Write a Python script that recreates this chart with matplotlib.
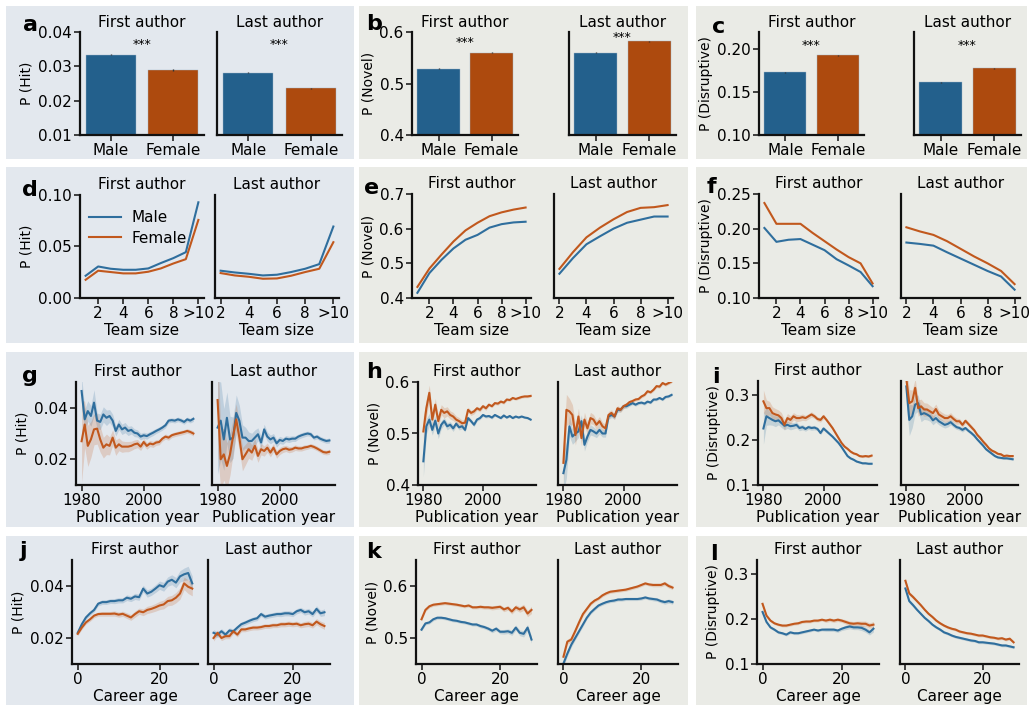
import numpy as np
import matplotlib
matplotlib.use('Agg')
import matplotlib.pyplot as plt
from matplotlib.patches import Rectangle

plt.rcParams['font.family'] = ['DejaVu Sans']

# ---------------- data ----------------
genders = ['Male', 'Female']
roles = ['First author', 'Last author']

hit_bar_first = [0.0334, 0.0289]
hit_bar_last = [0.0282, 0.0236]
hit_bar_err = [0.0002, 0.0002]
nov_bar_first = [0.529, 0.560]
nov_bar_last = [0.560, 0.582]
nov_bar_err = [0.001, 0.001]
dis_bar_first = [0.173, 0.193]
dis_bar_last = [0.1616, 0.178]
dis_bar_err = [0.0006, 0.0006]

team_first = [1, 2, 3, 4, 5, 6, 7, 8, 9, 10]
team_last = [2, 3, 4, 5, 6, 7, 8, 9, 10]
team_ticks = [2, 4, 6, 8, 10]
team_ticklabels = ['2', '4', '6', '8', '>10']

d_first_male = [0.0216, 0.0306, 0.0284, 0.0274, 0.0274, 0.0287, 0.0339, 0.0387, 0.0445, 0.0929]
d_first_female = [0.0177, 0.0265, 0.0252, 0.0239, 0.0239, 0.0255, 0.0287, 0.0335, 0.0377, 0.0758]
d_last_male = [0.0265, 0.0248, 0.0235, 0.0219, 0.0226, 0.0252, 0.0284, 0.0329, 0.0694]
d_last_female = [0.0242, 0.0219, 0.0206, 0.0187, 0.0190, 0.0216, 0.0252, 0.0284, 0.0542]

e_first_male = [0.415, 0.472, 0.510, 0.543, 0.568, 0.582, 0.603, 0.613, 0.618, 0.620]
e_first_female = [0.432, 0.485, 0.525, 0.563, 0.595, 0.617, 0.636, 0.647, 0.655, 0.661]
e_last_male = [0.470, 0.515, 0.555, 0.578, 0.600, 0.617, 0.626, 0.635, 0.635]
e_last_female = [0.484, 0.532, 0.575, 0.603, 0.627, 0.648, 0.660, 0.662, 0.668]

f_first_male = [0.201, 0.181, 0.184, 0.185, 0.177, 0.169, 0.156, 0.147, 0.1375, 0.117]
f_first_female = [0.237, 0.207, 0.207, 0.207, 0.194, 0.182, 0.170, 0.159, 0.150, 0.121]
f_last_male = [0.180, 0.178, 0.1755, 0.166, 0.157, 0.148, 0.139, 0.131, 0.112]
f_last_female = [0.202, 0.196, 0.191, 0.182, 0.171, 0.160, 0.150, 0.139, 0.120]

years = np.arange(1980, 2017)
year_ticks = [1980, 2000]

g_first_male = [0.0465, 0.0355, 0.0387, 0.0368, 0.0420, 0.0350, 0.0345, 0.0374, 0.0361, 0.0368,
                0.0350, 0.0310, 0.0335, 0.0316, 0.0323, 0.0310, 0.0314, 0.0303, 0.0300, 0.0288,
                0.0293, 0.0290, 0.0297, 0.0303, 0.0310, 0.0316, 0.0323, 0.0332, 0.0350, 0.0352,
                0.0350, 0.0355, 0.0351, 0.0345, 0.0355, 0.0350, 0.0357]
g_first_female = [0.0270, 0.0335, 0.0252, 0.0277, 0.0316, 0.0319, 0.0277, 0.0245, 0.0258, 0.0252,
                  0.0284, 0.0245, 0.0258, 0.0249, 0.0249, 0.0249, 0.0252, 0.0258, 0.0261, 0.0249,
                  0.0267, 0.0252, 0.0261, 0.0258, 0.0265, 0.0267, 0.0280, 0.0288, 0.0284, 0.0293,
                  0.0297, 0.0300, 0.0303, 0.0306, 0.0310, 0.0306, 0.0300]
g_last_male = [0.0323, 0.0350, 0.0277, 0.0361, 0.0277, 0.0284, 0.0380, 0.0350, 0.0284, 0.0284,
               0.0271, 0.0271, 0.0284, 0.0297, 0.0265, 0.0316, 0.0288, 0.0277, 0.0284, 0.0262,
               0.0275, 0.0271, 0.0280, 0.0277, 0.0280, 0.0280, 0.0288, 0.0293, 0.0297, 0.0300,
               0.0297, 0.0284, 0.0288, 0.0280, 0.0275, 0.0271, 0.0273]
g_last_female = [0.0430, 0.0200, 0.0219, 0.0174, 0.0219, 0.0290, 0.0355, 0.0284, 0.0200, 0.0219,
                 0.0239, 0.0226, 0.0252, 0.0213, 0.0239, 0.0232, 0.0245, 0.0226, 0.0245, 0.0219,
                 0.0232, 0.0239, 0.0242, 0.0237, 0.0239, 0.0245, 0.0242, 0.0242, 0.0246, 0.0248,
                 0.0252, 0.0248, 0.0242, 0.0235, 0.0228, 0.0226, 0.0229]
g_first_male_ci = [0.006, 0.004, 0.004, 0.004, 0.005, 0.003, 0.003, 0.003, 0.003, 0.0025,
                   0.0025, 0.002, 0.002, 0.002, 0.002, 0.0018, 0.0016, 0.0015, 0.0014, 0.0013,
                   0.0012, 0.0012, 0.0011, 0.0011, 0.001, 0.001, 0.001, 0.001, 0.0009, 0.0009,
                   0.0009, 0.0009, 0.0009, 0.0009, 0.0009, 0.0009, 0.001]
g_first_female_ci = [0.016, 0.009, 0.008, 0.007, 0.006, 0.006, 0.005, 0.004, 0.004, 0.0035,
                     0.003, 0.003, 0.0025, 0.0022, 0.002, 0.002, 0.0018, 0.0017, 0.0016, 0.0015,
                     0.0014, 0.0013, 0.0012, 0.0012, 0.0011, 0.0011, 0.001, 0.001, 0.001, 0.0009,
                     0.0009, 0.0009, 0.0009, 0.0009, 0.0009, 0.0009, 0.001]
g_last_male_ci = [0.018, 0.015, 0.012, 0.010, 0.009, 0.008, 0.007, 0.006, 0.005, 0.004,
                  0.0035, 0.003, 0.003, 0.0025, 0.0022, 0.002, 0.0018, 0.0017, 0.0016, 0.0015,
                  0.0014, 0.0013, 0.0012, 0.0012, 0.0011, 0.0011, 0.001, 0.001, 0.001, 0.0009,
                  0.0009, 0.0009, 0.0009, 0.0009, 0.0009, 0.0009, 0.001]
g_last_female_ci = [0.020, 0.012, 0.010, 0.009, 0.008, 0.007, 0.006, 0.005, 0.0045, 0.004,
                    0.0035, 0.003, 0.0028, 0.0025, 0.0022, 0.002, 0.0018, 0.0017, 0.0016, 0.0015,
                    0.0014, 0.0013, 0.0012, 0.0012, 0.0011, 0.0011, 0.001, 0.001, 0.001, 0.0009,
                    0.0009, 0.0009, 0.0009, 0.0009, 0.0009, 0.0009, 0.001]

h_first_male = [0.446, 0.514, 0.527, 0.507, 0.525, 0.500, 0.517, 0.524, 0.514, 0.517,
                0.510, 0.519, 0.512, 0.514, 0.507, 0.530, 0.524, 0.517, 0.527, 0.530,
                0.536, 0.533, 0.534, 0.531, 0.536, 0.533, 0.530, 0.535, 0.531, 0.534,
                0.530, 0.533, 0.531, 0.533, 0.531, 0.530, 0.527]
h_first_female = [0.504, 0.549, 0.579, 0.527, 0.556, 0.524, 0.546, 0.540, 0.543, 0.536,
                  0.533, 0.527, 0.524, 0.520, 0.521, 0.546, 0.540, 0.543, 0.549, 0.546,
                  0.553, 0.549, 0.556, 0.553, 0.559, 0.558, 0.562, 0.560, 0.566, 0.565,
                  0.569, 0.567, 0.569, 0.571, 0.572, 0.572, 0.573]
h_last_male = [0.423, 0.449, 0.514, 0.494, 0.500, 0.504, 0.524, 0.478, 0.494, 0.507,
               0.504, 0.500, 0.507, 0.500, 0.500, 0.533, 0.536, 0.533, 0.546, 0.546,
               0.553, 0.553, 0.556, 0.559, 0.556, 0.559, 0.560, 0.558, 0.562, 0.560,
               0.566, 0.566, 0.569, 0.566, 0.571, 0.572, 0.575]
h_last_female = [0.443, 0.546, 0.543, 0.536, 0.497, 0.533, 0.491, 0.527, 0.510, 0.530,
                 0.527, 0.517, 0.524, 0.514, 0.510, 0.536, 0.540, 0.533, 0.549, 0.546,
                 0.553, 0.556, 0.561, 0.563, 0.566, 0.567, 0.572, 0.575, 0.582, 0.580,
                 0.585, 0.592, 0.591, 0.598, 0.595, 0.598, 0.601]
h_first_male_ci = [0.030, 0.015, 0.012, 0.010, 0.010, 0.010, 0.008, 0.007, 0.007, 0.006,
                   0.006, 0.005, 0.005, 0.005, 0.004, 0.004, 0.004, 0.004, 0.003, 0.003,
                   0.003, 0.003, 0.003, 0.003, 0.0025, 0.0025, 0.0025, 0.0025, 0.002, 0.002,
                   0.002, 0.002, 0.002, 0.002, 0.002, 0.002, 0.002]
h_first_female_ci = [0.030, 0.018, 0.015, 0.012, 0.012, 0.012, 0.010, 0.010, 0.009, 0.008,
                     0.008, 0.007, 0.007, 0.006, 0.006, 0.005, 0.005, 0.005, 0.004, 0.004,
                     0.004, 0.004, 0.003, 0.003, 0.003, 0.003, 0.003, 0.003, 0.0025, 0.0025,
                     0.0025, 0.0025, 0.0025, 0.0025, 0.0025, 0.0025, 0.0025]
h_last_male_ci = [0.040, 0.035, 0.020, 0.015, 0.015, 0.012, 0.012, 0.012, 0.010, 0.010,
                  0.009, 0.008, 0.008, 0.007, 0.007, 0.006, 0.005, 0.005, 0.005, 0.004,
                  0.004, 0.004, 0.003, 0.003, 0.003, 0.003, 0.003, 0.003, 0.0025, 0.0025,
                  0.0025, 0.0025, 0.0025, 0.0025, 0.0025, 0.0025, 0.0025]
h_last_female_ci = [0.040, 0.030, 0.025, 0.020, 0.020, 0.016, 0.015, 0.014, 0.012, 0.011,
                    0.010, 0.009, 0.009, 0.008, 0.008, 0.007, 0.006, 0.006, 0.005, 0.005,
                    0.005, 0.004, 0.004, 0.004, 0.003, 0.003, 0.003, 0.003, 0.003, 0.003,
                    0.003, 0.003, 0.003, 0.003, 0.003, 0.003, 0.003]

i_first_male = [0.225, 0.252, 0.248, 0.244, 0.241, 0.243, 0.237, 0.231, 0.233, 0.230,
                0.231, 0.233, 0.226, 0.228, 0.224, 0.228, 0.226, 0.227, 0.224, 0.215,
                0.225, 0.219, 0.213, 0.207, 0.200, 0.193, 0.184, 0.174, 0.164, 0.159,
                0.156, 0.152, 0.150, 0.148, 0.148, 0.147, 0.147]
i_first_female = [0.285, 0.270, 0.270, 0.259, 0.256, 0.254, 0.248, 0.233, 0.248, 0.244,
                  0.252, 0.248, 0.248, 0.250, 0.248, 0.252, 0.256, 0.252, 0.246, 0.244,
                  0.252, 0.244, 0.235, 0.226, 0.215, 0.204, 0.193, 0.185, 0.180, 0.174,
                  0.170, 0.168, 0.164, 0.163, 0.164, 0.163, 0.165]
i_last_male = [0.318, 0.244, 0.252, 0.278, 0.281, 0.256, 0.259, 0.256, 0.252, 0.243,
               0.248, 0.241, 0.237, 0.233, 0.235, 0.239, 0.233, 0.228, 0.226, 0.222,
               0.226, 0.220, 0.215, 0.209, 0.201, 0.194, 0.187, 0.179, 0.174, 0.169,
               0.164, 0.161, 0.160, 0.159, 0.159, 0.158, 0.157]
i_last_female = [0.335, 0.281, 0.285, 0.315, 0.270, 0.274, 0.267, 0.267, 0.263, 0.259,
                 0.268, 0.256, 0.252, 0.248, 0.248, 0.252, 0.246, 0.241, 0.241, 0.233,
                 0.242, 0.235, 0.228, 0.221, 0.211, 0.204, 0.196, 0.189, 0.181, 0.176,
                 0.173, 0.169, 0.168, 0.164, 0.165, 0.164, 0.164]
i_first_male_ci = [0.035, 0.020, 0.015, 0.012, 0.012, 0.010, 0.010, 0.009, 0.008, 0.008,
                   0.007, 0.007, 0.006, 0.006, 0.005, 0.005, 0.005, 0.005, 0.004, 0.004,
                   0.004, 0.004, 0.003, 0.003, 0.003, 0.003, 0.003, 0.0025, 0.0025, 0.0025,
                   0.002, 0.002, 0.002, 0.002, 0.002, 0.002, 0.002]
i_first_female_ci = [0.025, 0.018, 0.015, 0.014, 0.013, 0.012, 0.012, 0.011, 0.010, 0.009,
                     0.008, 0.008, 0.007, 0.007, 0.006, 0.006, 0.006, 0.005, 0.005, 0.005,
                     0.005, 0.004, 0.004, 0.004, 0.004, 0.003, 0.003, 0.003, 0.003, 0.003,
                     0.0025, 0.0025, 0.0025, 0.0025, 0.0025, 0.0025, 0.0025]
i_last_male_ci = [0.040, 0.035, 0.025, 0.020, 0.018, 0.016, 0.014, 0.012, 0.011, 0.010,
                  0.009, 0.008, 0.008, 0.007, 0.007, 0.006, 0.006, 0.005, 0.005, 0.005,
                  0.004, 0.004, 0.004, 0.004, 0.003, 0.003, 0.003, 0.003, 0.003, 0.003,
                  0.0025, 0.0025, 0.0025, 0.0025, 0.0025, 0.0025, 0.0025]
i_last_female_ci = [0.040, 0.030, 0.025, 0.020, 0.018, 0.016, 0.015, 0.014, 0.013, 0.012,
                    0.011, 0.010, 0.009, 0.009, 0.008, 0.008, 0.007, 0.007, 0.006, 0.006,
                    0.005, 0.005, 0.005, 0.004, 0.004, 0.004, 0.004, 0.003, 0.003, 0.003,
                    0.003, 0.003, 0.003, 0.003, 0.003, 0.003, 0.003]

career_age = np.arange(0, 29)
age_ticks = [0, 20]

j_first_male = [0.0220, 0.0253, 0.0279, 0.0295, 0.0308, 0.0332, 0.0338, 0.0338, 0.0342, 0.0342,
                0.0345, 0.0345, 0.0355, 0.0351, 0.0360, 0.0357, 0.0390, 0.0371, 0.0378, 0.0390,
                0.0403, 0.0397, 0.0417, 0.0424, 0.0413, 0.0437, 0.0445, 0.0450, 0.0410]
j_first_female = [0.0216, 0.0240, 0.0260, 0.0272, 0.0286, 0.0292, 0.0293, 0.0293, 0.0293, 0.0294,
                  0.0290, 0.0293, 0.0286, 0.0279, 0.0292, 0.0303, 0.0299, 0.0308, 0.0312, 0.0318,
                  0.0325, 0.0329, 0.0342, 0.0345, 0.0355, 0.0371, 0.0410, 0.0397, 0.0390]
j_last_male = [0.0220, 0.0213, 0.0226, 0.0213, 0.0229, 0.0226, 0.0240, 0.0253, 0.0259, 0.0266,
               0.0272, 0.0276, 0.0292, 0.0282, 0.0286, 0.0289, 0.0292, 0.0292, 0.0295, 0.0295,
               0.0292, 0.0303, 0.0308, 0.0299, 0.0303, 0.0292, 0.0312, 0.0295, 0.0299]
j_last_female = [0.0200, 0.0220, 0.0200, 0.0207, 0.0207, 0.0226, 0.0213, 0.0233, 0.0233, 0.0237,
                 0.0240, 0.0240, 0.0242, 0.0246, 0.0246, 0.0249, 0.0249, 0.0253, 0.0253, 0.0255,
                 0.0253, 0.0255, 0.0249, 0.0253, 0.0255, 0.0249, 0.0263, 0.0253, 0.0246]
j_first_ci = [0.0007, 0.0007, 0.0007, 0.0008, 0.0008, 0.0008, 0.0009, 0.0009, 0.0009, 0.0010,
              0.0010, 0.0010, 0.0011, 0.0011, 0.0012, 0.0012, 0.0013, 0.0014, 0.0014, 0.0015,
              0.0016, 0.0017, 0.0018, 0.0019, 0.0020, 0.0022, 0.0024, 0.0026, 0.0028]
j_last_ci = [0.0012, 0.0011, 0.0010, 0.0010, 0.0010, 0.0009, 0.0009, 0.0009, 0.0009, 0.0009,
             0.0009, 0.0009, 0.0009, 0.0009, 0.0009, 0.0009, 0.0009, 0.0010, 0.0010, 0.0010,
             0.0010, 0.0010, 0.0010, 0.0011, 0.0011, 0.0011, 0.0012, 0.0012, 0.0013]

k_first_male = [0.516, 0.528, 0.530, 0.536, 0.539, 0.539, 0.538, 0.536, 0.534, 0.533,
                0.531, 0.530, 0.528, 0.526, 0.526, 0.523, 0.521, 0.518, 0.514, 0.518,
                0.512, 0.512, 0.513, 0.510, 0.520, 0.510, 0.508, 0.520, 0.497]
k_first_female = [0.536, 0.554, 0.561, 0.564, 0.565, 0.566, 0.567, 0.566, 0.565, 0.564,
                  0.5625, 0.561, 0.5625, 0.559, 0.559, 0.560, 0.559, 0.559, 0.558, 0.559,
                  0.560, 0.555, 0.558, 0.551, 0.559, 0.555, 0.559, 0.547, 0.554]
k_last_male = [0.451, 0.470, 0.487, 0.500, 0.513, 0.526, 0.539, 0.549, 0.556, 0.5625,
               0.566, 0.569, 0.571, 0.572, 0.574, 0.574, 0.575, 0.575, 0.575, 0.575,
               0.576, 0.578, 0.576, 0.575, 0.574, 0.571, 0.569, 0.571, 0.569]
k_last_female = [0.464, 0.493, 0.497, 0.513, 0.530, 0.546, 0.556, 0.566, 0.572, 0.576,
                 0.582, 0.586, 0.589, 0.590, 0.591, 0.592, 0.593, 0.595, 0.597, 0.599,
                 0.602, 0.605, 0.603, 0.602, 0.602, 0.602, 0.605, 0.600, 0.597]
k_first_ci = [0.003, 0.003, 0.003, 0.003, 0.003, 0.003, 0.003, 0.003, 0.003, 0.003,
              0.003, 0.003, 0.003, 0.003, 0.003, 0.0035, 0.0035, 0.0035, 0.004, 0.004,
              0.004, 0.0045, 0.0045, 0.005, 0.005, 0.0055, 0.006, 0.006, 0.007]
k_last_ci = [0.006, 0.005, 0.005, 0.004, 0.004, 0.004, 0.003, 0.003, 0.003, 0.003,
             0.003, 0.003, 0.003, 0.003, 0.003, 0.003, 0.003, 0.003, 0.003, 0.003,
             0.003, 0.003, 0.003, 0.0035, 0.0035, 0.0035, 0.004, 0.004, 0.004]

l_first_male = [0.215, 0.193, 0.181, 0.176, 0.170, 0.168, 0.165, 0.170, 0.168, 0.168,
                0.170, 0.172, 0.174, 0.176, 0.174, 0.176, 0.176, 0.176, 0.176, 0.174,
                0.178, 0.181, 0.183, 0.181, 0.181, 0.180, 0.176, 0.170, 0.178]
l_first_female = [0.233, 0.207, 0.196, 0.190, 0.187, 0.185, 0.185, 0.187, 0.189, 0.190,
                  0.193, 0.194, 0.194, 0.196, 0.196, 0.198, 0.196, 0.198, 0.196, 0.198,
                  0.196, 0.193, 0.190, 0.189, 0.190, 0.189, 0.189, 0.185, 0.187]
l_last_male = [0.267, 0.239, 0.230, 0.220, 0.211, 0.202, 0.195, 0.187, 0.181, 0.176,
               0.170, 0.167, 0.163, 0.160, 0.158, 0.156, 0.154, 0.152, 0.151, 0.148,
               0.148, 0.147, 0.146, 0.145, 0.143, 0.141, 0.141, 0.139, 0.137]
l_last_female = [0.284, 0.256, 0.248, 0.239, 0.230, 0.220, 0.211, 0.204, 0.196, 0.190,
                 0.185, 0.181, 0.178, 0.176, 0.172, 0.170, 0.168, 0.167, 0.165, 0.163,
                 0.163, 0.161, 0.159, 0.158, 0.156, 0.157, 0.154, 0.156, 0.148]
l_first_ci = [0.004, 0.003, 0.003, 0.003, 0.003, 0.003, 0.003, 0.003, 0.003, 0.003,
              0.003, 0.003, 0.003, 0.003, 0.003, 0.003, 0.004, 0.004, 0.004, 0.004,
              0.004, 0.005, 0.005, 0.005, 0.005, 0.006, 0.006, 0.006, 0.007]
l_last_ci = [0.005, 0.004, 0.004, 0.003, 0.003, 0.003, 0.003, 0.003, 0.003, 0.003,
             0.003, 0.003, 0.003, 0.003, 0.003, 0.003, 0.003, 0.003, 0.003, 0.003,
             0.003, 0.003, 0.003, 0.003, 0.003, 0.003, 0.003, 0.003, 0.003]

# ---------------- style ----------------
BLUE_BAR = '#23608c'
ORANGE_BAR = '#ad4a0e'
BLUE = '#2f6e9d'
ORANGE = '#c1581d'
BG1 = '#e3e8ee'
BG2 = '#eaebe6'

W, H = 1030, 705
fig = plt.figure(figsize=(W / 100, H / 100), dpi=100)
fig.patch.set_facecolor('white')

TICK = 11
TITLE = 11
YLAB = 10
XLAB = 11


def bg(l, t, r, b, color):
    fig.patches.append(Rectangle((l / W, 1 - b / H), (r - l) / W, (b - t) / H,
                                 transform=fig.transFigure, facecolor=color,
                                 edgecolor='none', zorder=-10))


def add_ax(l, t, r, b):
    ax = fig.add_axes([l / W, 1 - b / H, (r - l) / W, (b - t) / H])
    ax.set_facecolor('none')
    for s in ['top', 'right']:
        ax.spines[s].set_visible(False)
    for s in ['left', 'bottom']:
        ax.spines[s].set_linewidth(1.6)
        ax.spines[s].set_color('#111111')
    ax.tick_params(labelsize=TICK, width=1.1, length=4, color='#111111', pad=2)
    return ax


def letter(x, y, s):
    fig.text(x / W, 1 - y / H, s, fontsize=16, fontweight='bold', ha='left', va='baseline')


# backgrounds
cols = [(6, 354, BG1), (359, 688, BG2), (696, 1027, BG2)]
rows = [(6, 159), (167, 343), (352, 527), (536, 705)]
for (cl, cr, cc) in cols:
    for (rt, rb) in rows:
        bg(cl, rt, cr, rb, cc)


def bar_panel(ax, vals, err, ylim, yticks, star_y, first, ylabel=None):
    x = np.arange(len(genders))
    ax.bar(x, vals, width=0.8, color=[BLUE_BAR, ORANGE_BAR], edgecolor='#9fb6c8', linewidth=0.3,
           yerr=err, error_kw=dict(ecolor='#333333', elinewidth=1.0, capsize=0))
    ax.set_xlim(-0.5, 1.5)
    ax.set_ylim(*ylim)
    ax.set_yticks(yticks)
    ax.set_xticks(x, genders)
    ax.text(0.5, star_y, '***', ha='center', va='center', fontsize=9)
    ax.set_title(roles[0] if first else roles[1], fontsize=TITLE, pad=3.5)
    if first:
        ax.set_ylabel(ylabel, fontsize=YLAB, labelpad=3)
    else:
        ax.tick_params(axis='y', labelleft=False, length=0)


def line_panel(ax, x, m, f, mci=None, fci=None):
    m = np.asarray(m)
    f = np.asarray(f)
    if mci is not None:
        ax.fill_between(x, m - np.asarray(mci), m + np.asarray(mci), color=BLUE, alpha=0.2, lw=0)
        ax.fill_between(x, f - np.asarray(fci), f + np.asarray(fci), color=ORANGE, alpha=0.2, lw=0)
    ax.plot(x, m, color=BLUE, lw=1.5, label=genders[0])
    ax.plot(x, f, color=ORANGE, lw=1.5, label=genders[1])


# ---- row 1: bars ----
ax = add_ax(80, 32, 204, 135)
bar_panel(ax, hit_bar_first, hit_bar_err, (0.01, 0.04), [0.01, 0.02, 0.03, 0.04], 0.0365, True, 'P (Hit)')
ax = add_ax(217, 32, 342, 135)
bar_panel(ax, hit_bar_last, hit_bar_err, (0.01, 0.04), [0.01, 0.02, 0.03, 0.04], 0.0365, False)

ax = add_ax(412, 32, 518, 135)
bar_panel(ax, nov_bar_first, nov_bar_err, (0.4, 0.6), [0.4, 0.5, 0.6], 0.579, True, 'P (Novel)')
ax = add_ax(569, 32, 676, 135)
bar_panel(ax, nov_bar_last, nov_bar_err, (0.4, 0.6), [0.4, 0.5, 0.6], 0.590, False)

ax = add_ax(759, 32, 864, 135)
bar_panel(ax, dis_bar_first, dis_bar_err, (0.10, 0.22), [0.10, 0.15, 0.20], 0.204, True, 'P (Disruptive)')
ax = add_ax(914, 32, 1021, 135)
bar_panel(ax, dis_bar_last, dis_bar_err, (0.10, 0.22), [0.10, 0.15, 0.20], 0.204, False)


def finish(ax, first, ylim, yticks, xticks, xlabel, ylabel, xticklabels=None):
    ax.set_ylim(*ylim)
    ax.set_yticks(yticks)
    if xticklabels is None:
        ax.set_xticks(xticks)
    else:
        ax.set_xticks(xticks, xticklabels)
    ax.set_xlabel(xlabel, fontsize=XLAB, labelpad=1)
    ax.set_title(roles[0] if first else roles[1], fontsize=TITLE, pad=4)
    if first:
        ax.set_ylabel(ylabel, fontsize=YLAB, labelpad=3)
    else:
        ax.tick_params(axis='y', labelleft=False, length=0)


# ---- row 2: team size ----
ax = add_ax(80, 195, 204, 298)
line_panel(ax, team_first, d_first_male, d_first_female)
finish(ax, True, (0, 0.1), [0, 0.05, 0.1], team_ticks, 'Team size', 'P (Hit)', team_ticklabels)
ax.legend(loc='upper left', bbox_to_anchor=(0.0, 0.94), frameon=False, fontsize=11,
          handlelength=2.1, handletextpad=0.7, labelspacing=0.35, borderaxespad=0.2)
ax = add_ax(215, 195, 339, 298)
line_panel(ax, team_last, d_last_male, d_last_female)
finish(ax, False, (0, 0.1), [0, 0.05, 0.1], team_ticks, 'Team size', 'P (Hit)', team_ticklabels)

ax = add_ax(412, 194, 531, 298)
line_panel(ax, team_first, e_first_male, e_first_female)
finish(ax, True, (0.4, 0.7), [0.4, 0.5, 0.6, 0.7], team_ticks, 'Team size', 'P (Novel)', team_ticklabels)
ax = add_ax(554, 194, 673, 298)
line_panel(ax, team_last, e_last_male, e_last_female)
finish(ax, False, (0.4, 0.7), [0.4, 0.5, 0.6, 0.7], team_ticks, 'Team size', 'P (Novel)', team_ticklabels)

ax = add_ax(759, 194, 878, 298)
line_panel(ax, team_first, f_first_male, f_first_female)
finish(ax, True, (0.1, 0.25), [0.10, 0.15, 0.20, 0.25], team_ticks, 'Team size', 'P (Disruptive)', team_ticklabels)
ax = add_ax(901, 194, 1020, 298)
line_panel(ax, team_last, f_last_male, f_last_female)
finish(ax, False, (0.1, 0.25), [0.10, 0.15, 0.20, 0.25], team_ticks, 'Team size', 'P (Disruptive)', team_ticklabels)

# ---- row 3: publication year ----
ax = add_ax(76, 382, 199, 485)
line_panel(ax, years, g_first_male, g_first_female, g_first_male_ci, g_first_female_ci)
finish(ax, True, (0.01, 0.05), [0.02, 0.04], year_ticks, 'Publication year', 'P (Hit)')
ax = add_ax(212, 382, 335, 485)
line_panel(ax, years, g_last_male, g_last_female, g_last_male_ci, g_last_female_ci)
finish(ax, False, (0.01, 0.05), [0.02, 0.04], year_ticks, 'Publication year', 'P (Hit)')

ax = add_ax(418, 382, 536, 485)
line_panel(ax, years, h_first_male, h_first_female, h_first_male_ci, h_first_female_ci)
finish(ax, True, (0.4, 0.6), [0.4, 0.5, 0.6], year_ticks, 'Publication year', 'P (Novel)')
ax = add_ax(558, 382, 677, 485)
line_panel(ax, years, h_last_male, h_last_female, h_last_male_ci, h_last_female_ci)
finish(ax, False, (0.4, 0.6), [0.4, 0.5, 0.6], year_ticks, 'Publication year', 'P (Novel)')

ax = add_ax(758, 381, 877, 485)
line_panel(ax, years, i_first_male, i_first_female, i_first_male_ci, i_first_female_ci)
finish(ax, True, (0.1, 0.33), [0.1, 0.2, 0.3], year_ticks, 'Publication year', 'P (Disruptive)')
ax = add_ax(901, 381, 1018, 485)
line_panel(ax, years, i_last_male, i_last_female, i_last_male_ci, i_last_female_ci)
finish(ax, False, (0.1, 0.33), [0.1, 0.2, 0.3], year_ticks, 'Publication year', 'P (Disruptive)')

# ---- row 4: career age ----
ax = add_ax(72, 560, 198, 664)
line_panel(ax, career_age, j_first_male, j_first_female, j_first_ci, j_first_ci)
finish(ax, True, (0.01, 0.05), [0.02, 0.04], age_ticks, 'Career age', 'P (Hit)')
ax = add_ax(208, 560, 330, 664)
line_panel(ax, career_age, j_last_male, j_last_female, j_last_ci, j_last_ci)
finish(ax, False, (0.01, 0.05), [0.02, 0.04], age_ticks, 'Career age', 'P (Hit)')

ax = add_ax(416, 560, 537, 664)
line_panel(ax, career_age, k_first_male, k_first_female, k_first_ci, k_first_ci)
finish(ax, True, (0.45, 0.65), [0.5, 0.6], age_ticks, 'Career age', 'P (Novel)')
ax = add_ax(558, 560, 678, 664)
line_panel(ax, career_age, k_last_male, k_last_female, k_last_ci, k_last_ci)
finish(ax, False, (0.45, 0.65), [0.5, 0.6], age_ticks, 'Career age', 'P (Novel)')

ax = add_ax(757, 560, 879, 664)
line_panel(ax, career_age, l_first_male, l_first_female, l_first_ci, l_first_ci)
finish(ax, True, (0.1, 0.33), [0.1, 0.2, 0.3], age_ticks, 'Career age', 'P (Disruptive)')
ax = add_ax(900, 560, 1019, 664)
line_panel(ax, career_age, l_last_male, l_last_female, l_last_ci, l_last_ci)
finish(ax, False, (0.1, 0.33), [0.1, 0.2, 0.3], age_ticks, 'Career age', 'P (Disruptive)')

# panel letters
for (px, py, s) in [(23, 31, 'a'), (366, 30, 'b'), (712, 33, 'c'),
                    (22, 196, 'd'), (364, 194, 'e'), (707, 193, 'f'),
                    (22, 382, 'g'), (366, 378, 'h'), (712, 383, 'i'),
                    (20, 557, 'j'), (366, 558, 'k'), (710, 560, 'l')]:
    letter(px, py, s)

fig.savefig('out.png', dpi=100)
